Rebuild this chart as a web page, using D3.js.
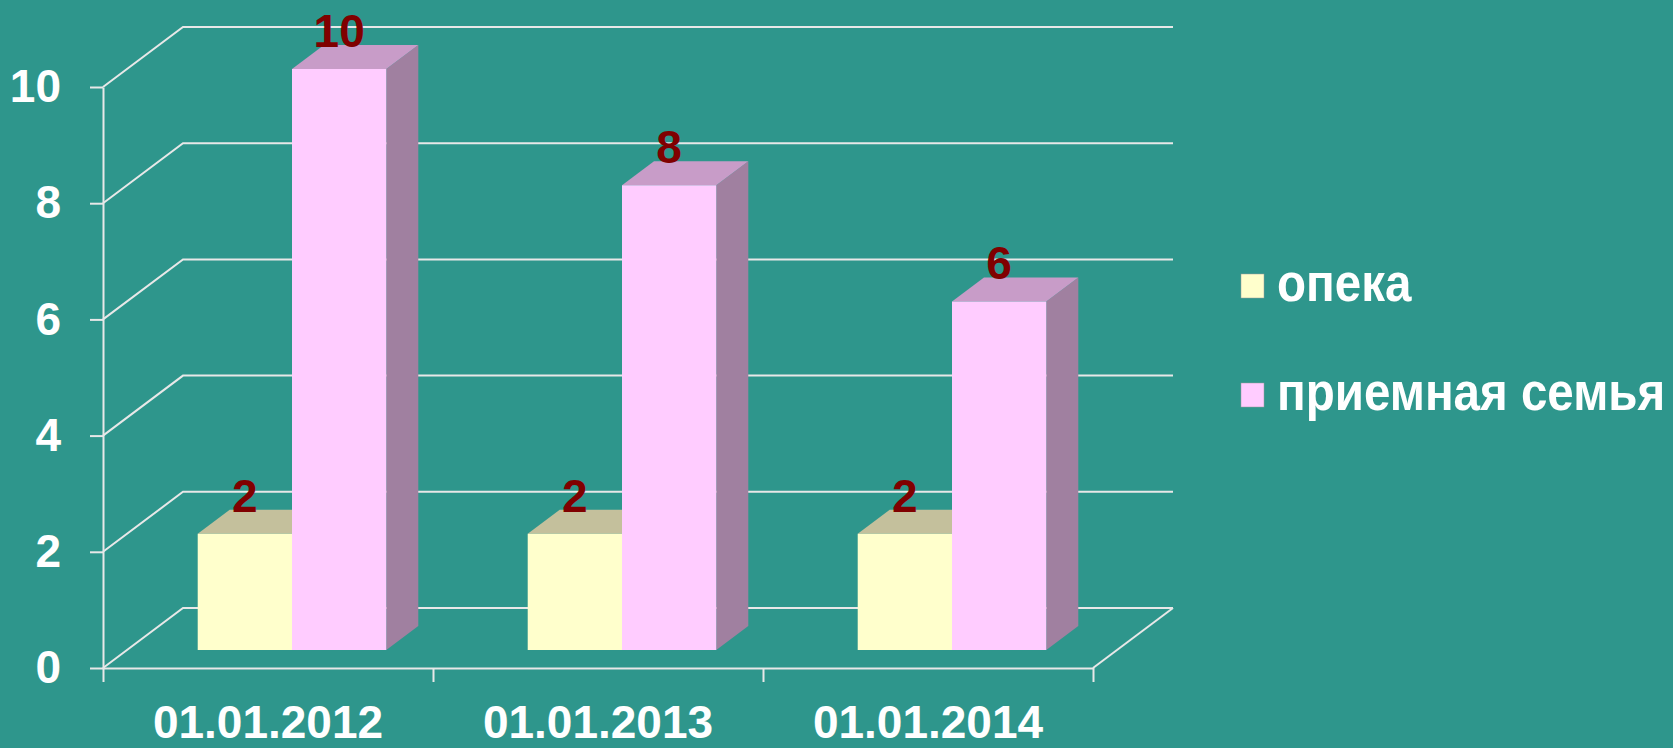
<!DOCTYPE html>
<html>
<head>
<meta charset="utf-8">
<script src="https://cdn.jsdelivr.net/npm/d3@7"></script>
<style>
  html, body { margin: 0; padding: 0; background: #2e968c; }
  svg { display: block; }
  text { font-family: "Liberation Sans", Arial, sans-serif; font-weight: bold; }
</style>
</head>
<body>
<div id="chart"></div>
<script>
const categories = ['01.01.2012', '01.01.2013', '01.01.2014'];
const seriesNames = ['опека', 'приемная семья'];
const opeka = [2, 2, 2];
const priemnaya = [10, 8, 6];
const yTicks = [0, 2, 4, 6, 8, 10];

const width = 1673;
const height = 748;
const depth = { x: 80, y: 60 };          // offset of the back wall
const barZ = [0.3, 0.7];                 // bar front / back depth, 0..1

const colors = [
  { front: '#ffffcc', top: '#c4c09c', side: '#a8a47e' },
  { front: '#ffccff', top: '#c89cc8', side: '#a080a0' },
];

const svg = d3.select('#chart').append('svg')
  .attr('width', width)
  .attr('height', height);

svg.append('rect')
  .attr('width', width)
  .attr('height', height)
  .attr('fill', '#2e968c');

const x = d3.scaleBand().domain(categories).range([103, 1093]);
const xEdge = d3.scaleLinear().domain([0, categories.length]).range(x.range());
const xSub = d3.scaleBand().domain(seriesNames).range([0, x.bandwidth()]).paddingOuter(0.75);
const y = d3.scaleLinear().domain([0, 10]).range([668, 87]);

// project a point (px on front plane, value, depth 0..1) onto the screen
const proj = (px, v, z) => [px + z * depth.x, y(v) - z * depth.y];
const line = d3.line();

// walls: side and back gridlines
const grid = svg.append('g')
  .attr('fill', 'none')
  .attr('stroke', '#e8e8e8')
  .attr('stroke-width', 2);

grid.selectAll('path.grid')
  .data(yTicks)
  .enter()
  .append('path')
  .attr('class', 'grid')
  .attr('d', d => line([proj(x.range()[0], d, 0), proj(x.range()[0], d, 1), proj(x.range()[1], d, 1)]));

// floor edge on the right
grid.append('path')
  .attr('d', line([proj(x.range()[1], 0, 0), proj(x.range()[1], 0, 1)]));

// bars
const rows = categories.map((c, i) => [
  { cat: c, name: seriesNames[0], value: opeka[i], s: 0 },
  { cat: c, name: seriesNames[1], value: priemnaya[i], s: 1 },
]);

const bars = svg.append('g');
rows.forEach(row => {
  row.forEach(d => {
    const x0 = x(d.cat) + xSub(d.name);
    const x1 = x0 + xSub.bandwidth();
    const [z0, z1] = barZ;
    const g = bars.append('g');
    const c = colors[d.s];

    g.append('path')
      .attr('fill', c.side)
      .attr('d', line([proj(x1, 0, z0), proj(x1, d.value, z0), proj(x1, d.value, z1), proj(x1, 0, z1)]) + 'Z');
    g.append('path')
      .attr('fill', c.top)
      .attr('d', line([proj(x0, d.value, z0), proj(x1, d.value, z0), proj(x1, d.value, z1), proj(x0, d.value, z1)]) + 'Z');
    g.append('path')
      .attr('fill', c.front)
      .attr('d', line([proj(x0, 0, z0), proj(x1, 0, z0), proj(x1, d.value, z0), proj(x0, d.value, z0)]) + 'Z');
  });
});

// data labels
const labels = svg.append('g')
  .attr('fill', '#800000')
  .attr('font-size', 46)
  .attr('text-anchor', 'middle');

rows.flat().forEach(d => {
  const cx = x(d.cat) + xSub(d.name) + xSub.bandwidth() / 2;
  const p = proj(cx, d.value, barZ[0]);
  labels.append('text')
    .attr('x', p[0])
    .attr('y', y(d.value) - barZ[1] * depth.y + 2)
    .text(d.value);
});

// y axis
const yAxis = svg.append('g')
  .attr('transform', `translate(${x.range()[0]}, 0)`)
  .call(d3.axisLeft(y).tickValues(yTicks).tickSize(13).tickSizeOuter(0).tickPadding(29));

// x axis: boundary ticks and category labels
const xTicks = svg.append('g')
  .attr('transform', `translate(0, ${y(0)})`)
  .call(d3.axisBottom(xEdge).ticks(categories.length).tickFormat('').tickSize(14).tickSizeOuter(0));

const xAxis = svg.append('g')
  .attr('transform', `translate(0, ${y(0)})`)
  .call(d3.axisBottom(x).tickSize(0).tickPadding(37));

[yAxis, xTicks, xAxis].forEach(a => {
  a.selectAll('path, line').attr('stroke', '#e8e8e8').attr('stroke-width', 2);
  a.selectAll('text')
    .attr('fill', '#ffffff')
    .attr('font-size', 46)
    .attr('font-family', '"Liberation Sans", Arial, sans-serif')
    .attr('font-weight', 'bold');
});
xAxis.select('.domain').remove();

// legend
const legend = svg.append('g')
  .attr('transform', 'translate(1241, 0)');

const legendY = [301, 410];
seriesNames.forEach((name, i) => {
  const item = legend.append('g')
    .attr('transform', `translate(0, ${legendY[i]})`);
  item.append('rect')
    .attr('x', 0)
    .attr('y', -27)
    .attr('width', 23)
    .attr('height', 24)
    .attr('fill', colors[i].front)
    .attr('stroke', '#9a9a9a')
    .attr('stroke-width', 0.5);
  item.append('text')
    .attr('transform', 'translate(36, 0) scale(0.88, 1)')
    .attr('fill', '#ffffff')
    .attr('font-size', 54)
    .text(name);
});
</script>
</body>
</html>
